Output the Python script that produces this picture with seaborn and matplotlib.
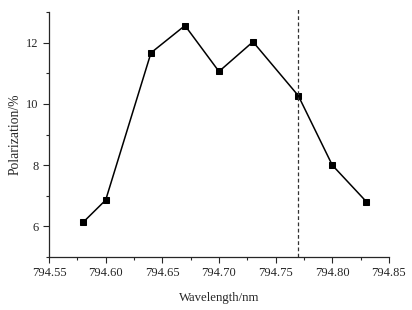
import matplotlib
matplotlib.use('Agg')
import matplotlib.pyplot as plt
from matplotlib.ticker import MultipleLocator, FormatStrFormatter
import seaborn as sns
import pandas as pd

sns.set_style('ticks')
plt.rcParams['font.family'] = ['Liberation Serif', 'DejaVu Serif']

# Data
wavelength = [794.58, 794.60, 794.64, 794.67, 794.70, 794.73, 794.77, 794.80, 794.83]
polarization = [6.13, 6.86, 11.67, 12.56, 11.06, 12.03, 10.27, 8.0, 6.81]
marker_line = 794.77

df = pd.DataFrame({'wavelength': wavelength, 'polarization': polarization})

fig = plt.figure(figsize=(4.12, 3.10), dpi=100)
ax = fig.add_axes([0.119, 0.171, 0.825, 0.79])

sns.lineplot(data=df, x='wavelength', y='polarization', ax=ax, color='black',
             linewidth=1.1, marker='s', markersize=5, markeredgecolor='black')
ax.axvline(marker_line, ymin=0, ymax=1.018, color='#333333', linestyle=(0, (3, 2)),
           linewidth=0.9, clip_on=False)

ax.set_xlim(794.55, 794.85)
ax.set_ylim(5, 13)
ax.xaxis.set_major_locator(MultipleLocator(0.05))
ax.xaxis.set_minor_locator(MultipleLocator(0.025))
ax.yaxis.set_minor_locator(MultipleLocator(1))
ax.set_yticks([6, 8, 10, 12])
ax.xaxis.set_major_formatter(FormatStrFormatter('%.2f'))

sns.despine(ax=ax)
for s in ['left', 'bottom']:
    ax.spines[s].set_linewidth(0.9)
ax.tick_params(which='major', length=4, width=0.8, labelsize=9, direction='out')
ax.tick_params(which='minor', length=2.5, width=0.8, direction='out')

ax.set_xlabel('Wavelength/nm', fontsize=9.2, labelpad=9)
ax.set_ylabel('Polarization/%', fontsize=9.8, labelpad=3)

fig.savefig('out.png', dpi=100)
